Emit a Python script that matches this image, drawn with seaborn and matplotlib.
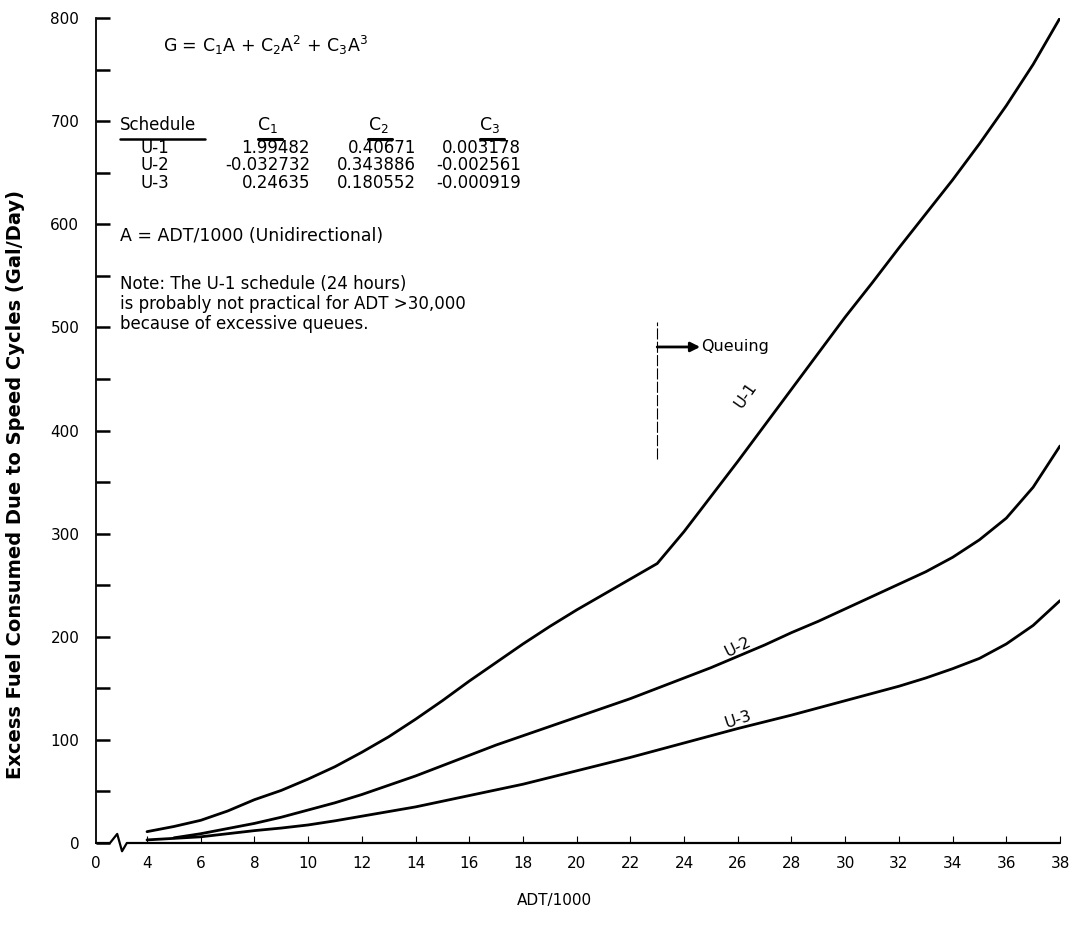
import numpy as np
import pandas as pd
import matplotlib
matplotlib.use("Agg")
import matplotlib.pyplot as plt
import seaborn as sns

# ---------------- data ----------------
adt_u1 = [4, 5, 6, 7, 8, 9, 10, 11, 12, 13, 14, 15, 16, 17, 18, 19, 20, 21, 22, 23,
          24, 25, 26, 27, 28, 29, 30, 31, 32, 33, 34, 35, 36, 37, 38]
fuel_u1 = [11, 16, 22, 31, 42, 51, 62, 74, 88, 103, 120, 138, 157, 175, 193, 210, 226, 241, 256, 271,
           302, 336, 370, 405, 440, 475, 510, 543, 577, 610, 643, 678, 715, 755, 800]

adt_u2 = [5, 6, 7, 8, 9, 10, 11, 12, 13, 14, 15, 16, 17, 18, 19, 20, 21, 22, 23,
          24, 25, 26, 27, 28, 29, 30, 31, 32, 33, 34, 35, 36, 37, 38]
fuel_u2 = [5, 9, 14, 19, 25, 32, 39, 47, 56, 65, 75, 85, 95, 104, 113, 122, 131, 140, 150,
           160, 170, 181, 192, 204, 215, 227, 239, 251, 263, 277, 294, 315, 345, 385]

adt_u3 = [4, 5, 6, 7, 8, 9, 10, 11, 12, 13, 14, 15, 16, 17, 18, 19, 20, 21, 22, 23,
          24, 25, 26, 27, 28, 29, 30, 31, 32, 33, 34, 35, 36, 37, 38]
fuel_u3 = [3, 4.5, 6, 9, 12, 14.5, 17.5, 21.5, 26, 30.5, 35, 40.5, 46, 51.5, 57, 63.5, 70, 76.5, 83, 90,
           97, 104, 111, 117.5, 124, 131, 138, 145, 152, 160, 169, 179, 193, 211, 235]

schedules = ["U-1", "U-2", "U-3"]
coef_c1 = ["1.99482", "-0.032732", "0.24635"]
coef_c2 = ["0.40671", "0.343886", "0.180552"]
coef_c3 = ["0.003178", "-0.002561", "-0.000919"]

x_ticks = [0, 4, 6, 8, 10, 12, 14, 16, 18, 20, 22, 24, 26, 28, 30, 32, 34, 36, 38]
y_major = [0, 100, 200, 300, 400, 500, 600, 700, 800]
y_minor = [50, 150, 250, 350, 450, 550, 650, 750]

queue_x = 23
queue_span = [372, 505]
queue_arrow_y = 481

df = pd.concat([
    pd.DataFrame({"ADT": adt_u1, "Fuel": fuel_u1, "Schedule": "U-1"}),
    pd.DataFrame({"ADT": adt_u2, "Fuel": fuel_u2, "Schedule": "U-2"}),
    pd.DataFrame({"ADT": adt_u3, "Fuel": fuel_u3, "Schedule": "U-3"}),
], ignore_index=True)

# ---------------- style ----------------
sns.set_style("white")
plt.rcParams["font.family"] = ["DejaVu Sans"]
plt.rcParams["font.size"] = 11
plt.rcParams["text.color"] = "black"
plt.rcParams["axes.labelcolor"] = "black"
plt.rcParams["xtick.color"] = "black"
plt.rcParams["ytick.color"] = "black"

fig = plt.figure(figsize=(10.75, 9.4), dpi=100)
ax = fig.add_axes([96 / 1075, (940 - 843) / 940, (1060 - 96) / 1075, (843 - 18) / 940])


# broken x axis: 0..4 compressed
def fwd(x):
    x = np.asarray(x, dtype=float)
    return np.where(x < 4, 2.1 + x * (1.9 / 4), x)


def inv(y):
    y = np.asarray(y, dtype=float)
    return np.where(y < 4, (y - 2.1) * 4 / 1.9, y)


ax.set_xscale("function", functions=(fwd, inv))

sns.lineplot(data=df, x="ADT", y="Fuel", hue="Schedule",
             palette={"U-1": "black", "U-2": "black", "U-3": "black"},
             linewidth=2.0, legend=False, ax=ax, sort=True)

ax.set_xlim(0, 38)
ax.set_ylim(0, 800)

for s in ["top", "right", "bottom"]:
    ax.spines[s].set_visible(False)
ax.spines["left"].set_linewidth(1.3)
ax.spines["left"].set_color("black")

# bottom axis with break squiggle
bx = [0, 0.0145, 0.022, 0.027, 0.032, 1.0]
by = [0, 0, 0.011, -0.010, 0, 0]
ax.plot(bx, by, transform=ax.transAxes, color="black", lw=1.6, clip_on=False)

ax.set_xticks(x_ticks)
ax.set_xticklabels([str(v) for v in x_ticks])
ax.set_yticks(y_major)
ax.set_yticks(y_minor, minor=True)
ax.tick_params(axis="x", which="both", bottom=True, direction="in", length=5, width=0.8,
               pad=9, labelsize=11, colors="black")
ax.tick_params(axis="y", which="both", left=True, direction="in", length=10, width=1.8,
               pad=12, labelsize=11, colors="black")
ax.xaxis.get_major_ticks()[0].tick1line.set_visible(False)

ax.set_xlabel("ADT/1000", fontsize=11)
ax.xaxis.set_label_coords(0.476, -0.060)
ax.set_ylabel("Excess Fuel Consumed Due to Speed Cycles (Gal/Day)", fontsize=14, fontweight="bold")
ax.yaxis.set_label_coords(-0.074, 0.434)

# ---------------- annotations ----------------
T = ax.transAxes
ax.text(0.0695, 0.967, r"G = C$_1$A + C$_2$A$^2$ + C$_3$A$^3$", transform=T, va="center", ha="left", fontsize=12.5)

hy = 0.870
ax.text(0.0249, hy, "Schedule", transform=T, va="center", ha="left", fontsize=12)
ax.text(0.178, hy, r"C$_1$", transform=T, va="center", ha="center", fontsize=12.5)
ax.text(0.2925, hy, r"C$_2$", transform=T, va="center", ha="center", fontsize=12.5)
ax.text(0.4087, hy, r"C$_3$", transform=T, va="center", ha="center", fontsize=12.5)
for x0, x1, lw in [(0.0249, 0.113, 1.8), (0.168, 0.193, 2.2), (0.282, 0.307, 2.2), (0.398, 0.423, 2.2)]:
    ax.plot([x0, x1], [0.853, 0.853], transform=T, color="black", lw=lw, clip_on=False)

row_y = [0.842, 0.8215, 0.800]
for i, yy in enumerate(row_y):
    ax.text(0.0612, yy, schedules[i], transform=T, va="center", ha="center", fontsize=12)
    ax.text(0.222, yy, coef_c1[i], transform=T, va="center", ha="right", fontsize=12)
    ax.text(0.332, yy, coef_c2[i], transform=T, va="center", ha="right", fontsize=12)
    ax.text(0.441, yy, coef_c3[i], transform=T, va="center", ha="right", fontsize=12)

ax.text(0.0249, 0.736, "A = ADT/1000 (Unidirectional)", transform=T, va="center", ha="left", fontsize=12.5)
note = ["Note: The U-1 schedule (24 hours)",
        "is probably not practical for ADT >30,000",
        "because of excessive queues."]
for yy, line in zip([0.6776, 0.6533, 0.629], note):
    ax.text(0.0249, yy, line, transform=T, va="center", ha="left", fontsize=12)

# queuing marker
ax.plot([queue_x, queue_x], queue_span, color="black", lw=0.8, linestyle=(0, (10, 2)))
ax.annotate("", xy=(24.6, queue_arrow_y), xytext=(queue_x, queue_arrow_y),
            arrowprops=dict(arrowstyle="-|>", lw=2, color="black", mutation_scale=14,
                            shrinkA=0, shrinkB=0))
ax.text(24.65, queue_arrow_y, "Queuing", va="center", ha="left", fontsize=11.5)

# curve labels
ax.text(26.3, 434, "U-1", rotation=55, ha="center", va="center", fontsize=11.5)
ax.text(26.0, 190, "U-2", rotation=26, ha="center", va="center", fontsize=11.5)
ax.text(26.0, 120, "U-3", rotation=18, ha="center", va="center", fontsize=11.5)

fig.savefig("out.png", dpi=100)
